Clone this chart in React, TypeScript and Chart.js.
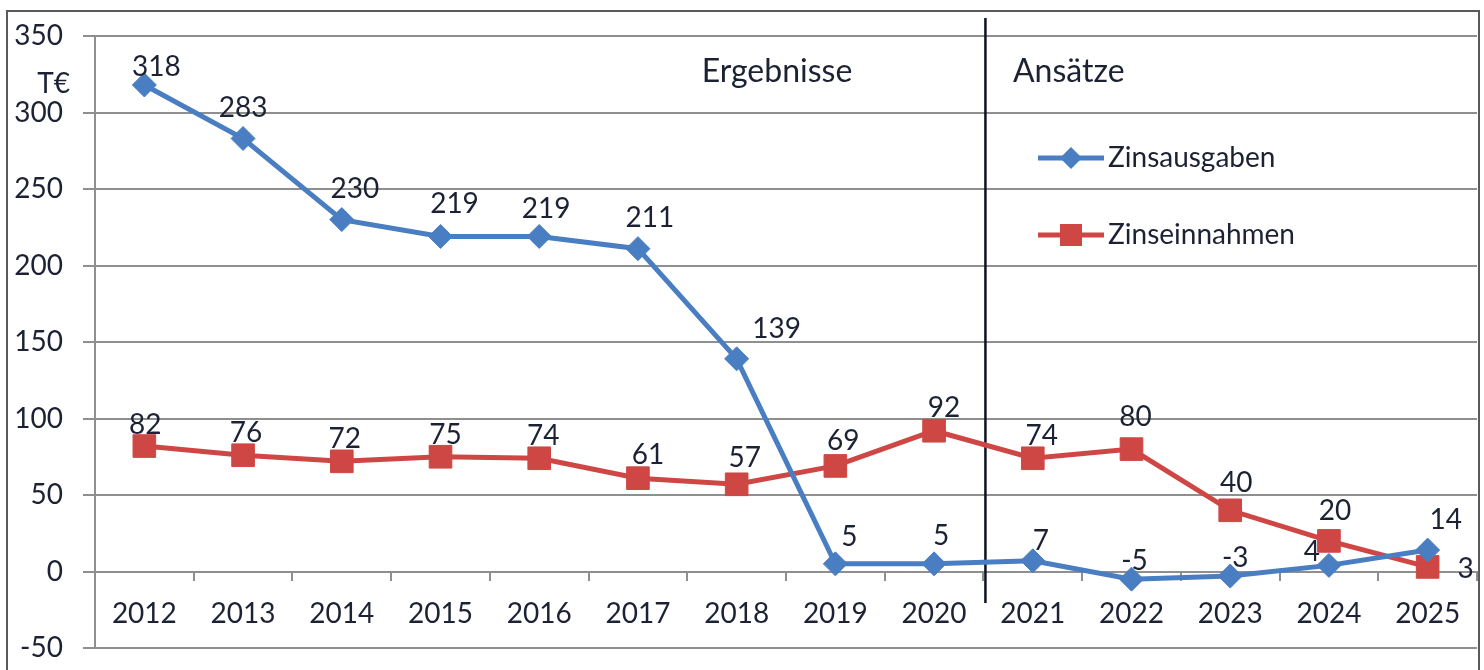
import React, { useEffect, useRef } from 'react';
import { Chart, registerables } from 'chart.js';

Chart.register(...registerables);

const years = ['2012', '2013', '2014', '2015', '2016', '2017', '2018', '2019', '2020', '2021', '2022', '2023', '2024', '2025'];
const zinsausgaben = [318, 283, 230, 219, 219, 211, 139, 5, 5, 7, -5, -3, 4, 14];
const zinseinnahmen = [82, 76, 72, 75, 74, 61, 57, 69, 92, 74, 80, 40, 20, 3];
const seriesNames = ['Zinsausgaben', 'Zinseinnahmen'];
const sectionLabels = ['Ergebnisse', 'Ansätze'];
const unitLabel = 'T€';
const yMin = -50;
const yMax = 350;
const yStep = 50;

// label offsets (styling, in px) relative to each point
const blueLabelDx = [12, 0, 13, 14, 7, 12, 40, 14, 7, 8, 3, 5, -17, 18];
const blueLabelDy = [-18, -31, -31, -32, -27, -31, -30, -27, -28, -20, -18, -18, -13, -30];
const redLabelDx = [1, 3, 3, 5, 4, 10, 8, 8, 10, 9, 4, 6, 6, 38];
const redLabelDy = [-21, -22, -22, -22, -22, -23, -26, -25, -23, -22, -32, -27, -30, 2];

const FONT = 'Lato';
const TEXT = '#1c2233';
const GRID = '#8f8f8f';
const BLUE = '#4a7ec2';
const RED = '#cf4744';

const overlay = {
  id: 'overlay',
  beforeDatasetsDraw(chart: any) {
    const ctx = chart.ctx;
    const x = chart.scales.x;
    const sepX = (x.getPixelForValue(8) + x.getPixelForValue(9)) / 2 + 2;
    ctx.save();
    ctx.strokeStyle = '#0d1420';
    ctx.lineWidth = 2.5;
    ctx.beginPath();
    ctx.moveTo(sepX, 18);
    ctx.lineTo(sepX, 603);
    ctx.stroke();
    ctx.restore();
  },
  afterDatasetsDraw(chart: any) {
    const ctx = chart.ctx;
    ctx.save();
    ctx.font = `28px ${FONT}`;
    ctx.fillStyle = TEXT;
    ctx.textAlign = 'center';
    ctx.textBaseline = 'middle';
    const m0 = chart.getDatasetMeta(0);
    const m1 = chart.getDatasetMeta(1);
    m1.data.forEach((p: any, i: number) => {
      ctx.fillText(String(zinseinnahmen[i]), p.x + redLabelDx[i], p.y + redLabelDy[i]);
    });
    m0.data.forEach((p: any, i: number) => {
      ctx.fillText(String(zinsausgaben[i]), p.x + blueLabelDx[i], p.y + blueLabelDy[i]);
    });
    ctx.restore();
  },
  afterDraw(chart: any) {
    const ctx = chart.ctx;
    ctx.save();
    // outer frame
    ctx.strokeStyle = '#5a5a5a';
    ctx.lineWidth = 2;
    ctx.beginPath();
    ctx.moveTo(7, 700);
    ctx.lineTo(7, 11);
    ctx.lineTo(1479, 11);
    ctx.lineTo(1479, 700);
    ctx.stroke();

    ctx.fillStyle = TEXT;
    ctx.textBaseline = 'middle';
    // unit
    ctx.font = `28px ${FONT}`;
    ctx.textAlign = 'right';
    ctx.fillText(unitLabel, 70, 84);
    // section labels
    ctx.font = `32px ${FONT}`;
    ctx.textAlign = 'center';
    ctx.fillText(sectionLabels[0], 777, 72);
    ctx.textAlign = 'left';
    ctx.fillText(sectionLabels[1], 1013, 72);

    // legend
    ctx.font = `28px ${FONT}`;
    const items = [
      { name: seriesNames[0], color: BLUE, y: 158, shape: 'diamond' },
      { name: seriesNames[1], color: RED, y: 235, shape: 'square' },
    ];
    items.forEach((it) => {
      ctx.strokeStyle = it.color;
      ctx.lineWidth = 5;
      ctx.beginPath();
      ctx.moveTo(1038, it.y);
      ctx.lineTo(1104, it.y);
      ctx.stroke();
      ctx.fillStyle = it.color;
      ctx.beginPath();
      const cx = 1071;
      if (it.shape === 'diamond') {
        ctx.moveTo(cx - 11, it.y);
        ctx.lineTo(cx, it.y - 11);
        ctx.lineTo(cx + 11, it.y);
        ctx.lineTo(cx, it.y + 11);
        ctx.closePath();
      } else {
        ctx.rect(cx - 11, it.y - 11, 22, 22);
      }
      ctx.fill();
      ctx.fillStyle = TEXT;
      ctx.textAlign = 'left';
      ctx.fillText(it.name, 1108, it.y);
    });
    ctx.restore();
  },
};

export default function App() {
  const ref = useRef<HTMLCanvasElement | null>(null);
  useEffect(() => {
    if (!ref.current) return;
    const font = { family: FONT, size: 28 };
    const chart = new Chart(ref.current, {
      type: 'line',
      data: {
        labels: years,
        datasets: [
          {
            label: seriesNames[0],
            data: zinsausgaben,
            borderColor: BLUE,
            backgroundColor: BLUE,
            borderWidth: 5,
            pointStyle: 'rectRot',
            pointRadius: 12,
            pointBorderWidth: 1,
            pointBackgroundColor: BLUE,
            pointBorderColor: BLUE,
            tension: 0,
            clip: false,
          },
          {
            label: seriesNames[1],
            data: zinseinnahmen,
            borderColor: RED,
            backgroundColor: RED,
            borderWidth: 5,
            pointStyle: 'rect',
            pointRadius: 16,
            pointBorderWidth: 1,
            pointBackgroundColor: RED,
            pointBorderColor: RED,
            tension: 0,
            clip: false,
          },
        ],
      },
      options: {
        responsive: false,
        animation: false,
        layout: { autoPadding: false, padding: { left: 0, top: 36, right: 7, bottom: 22 } },
        plugins: {
          legend: { display: false },
          tooltip: { enabled: false },
          title: { display: false },
        },
        scales: {
          x: {
            type: 'category',
            position: { y: 0 } as any,
            offset: true,
            grid: {
              display: true,
              drawOnChartArea: false,
              drawTicks: true,
              tickLength: 8,
              color: GRID,
              lineWidth: 2,
              offset: true,
            },
            border: { display: true, color: GRID, width: 2 },
            ticks: { font, color: TEXT, padding: 18, maxRotation: 0, autoSkip: false },
            afterFit: (s: any) => {
              s.paddingLeft = 0;
              s.paddingRight = 0;
              s.paddingTop = 0;
              s.paddingBottom = 0;
            },
          },
          y: {
            type: 'linear',
            min: yMin,
            max: yMax,
            ticks: { stepSize: yStep, font, color: TEXT, padding: 20 },
            grid: { color: GRID, lineWidth: 2, tickLength: 12, drawTicks: true },
            border: { display: true, color: GRID, width: 2 },
            afterFit: (s: any) => {
              s.width = 95;
              s.paddingTop = 0;
              s.paddingBottom = 0;
              s.paddingLeft = 0;
              s.paddingRight = 0;
            },
          },
        },
      },
      plugins: [overlay],
    });
    return () => chart.destroy();
  }, []);
  return (
    <div style={{ position: 'absolute', left: 0, top: 0, width: 1484, height: 670, background: '#fff' }}>
      <canvas ref={ref} width={1484} height={670} style={{ display: 'block' }} />
    </div>
  );
}
